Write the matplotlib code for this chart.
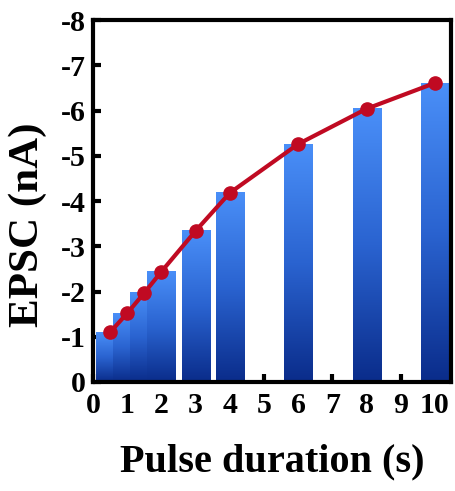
import numpy as np
import matplotlib
matplotlib.use("Agg")
import matplotlib.pyplot as plt
from matplotlib.colors import LinearSegmentedColormap

# Pulse duration (s) and measured EPSC amplitude (nA)
durations = [0.5, 1, 1.5, 2, 3, 4, 6, 8, 10]
epsc = [-1.10, -1.52, -1.97, -2.44, -3.34, -4.18, -5.26, -6.04, -6.61]
x_ticks = list(range(0, 11))
y_ticks = list(range(0, -9, -1))

plt.rcParams["font.family"] = ["Liberation Serif", "DejaVu Serif"]
plt.rcParams["font.weight"] = "bold"

fig = plt.figure(figsize=(4.56, 4.91), dpi=100)
ax = fig.add_axes([0.204, 0.222, 0.785, 0.737])

cmap = LinearSegmentedColormap.from_list("bluegrad", ["#0a2c8a", "#2a63d0", "#4a8ff8"])
grad = np.linspace(0, 1, 256).reshape(-1, 1)
bar_w = 0.82

# each bar is a vertical gradient, dark at the baseline and light at the top
for i, (d, v) in enumerate(zip(durations, epsc)):
    ax.imshow(grad, cmap=cmap, origin="lower", aspect="auto",
              extent=(d - bar_w / 2, d + bar_w / 2, 0, v),
              zorder=2 + i * 0.01, interpolation="bilinear")

ax.plot(durations, epsc, color="#c00a22", lw=3.0, marker="o", ms=9.5,
        markerfacecolor="#c00a22", markeredgecolor="#c00a22", zorder=5)

ax.set_xlim(0, 10.47)
ax.set_ylim(0, -8)
ax.set_xticks(x_ticks)
ax.set_yticks(y_ticks)
ax.set_xticklabels([str(t) for t in x_ticks])
ax.set_yticklabels([str(t) for t in y_ticks])

for s in ax.spines.values():
    s.set_linewidth(3)
ax.tick_params(direction="in", length=6, width=3, labelsize=21.5,
               top=False, right=False)
ax.tick_params(axis="x", pad=7)
ax.tick_params(axis="y", pad=5)
for lbl in ax.get_xticklabels() + ax.get_yticklabels():
    lbl.set_fontweight("bold")

ax.set_xlabel("Pulse duration (s)", fontsize=29, fontweight="bold", labelpad=18)
ax.set_ylabel("EPSC (nA)", fontsize=31, fontweight="bold")
ax.yaxis.set_label_coords(-0.128, 0.435)

fig.savefig("out.png", dpi=100)
